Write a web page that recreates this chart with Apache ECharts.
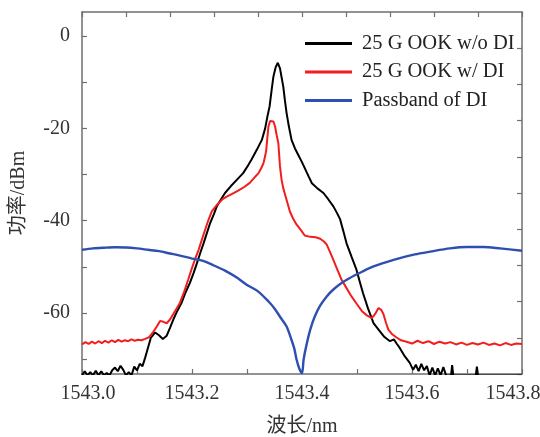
<!DOCTYPE html>
<html>
<head>
<meta charset="utf-8">
<script src="https://cdn.jsdelivr.net/npm/echarts@6/dist/echarts.min.js"></script>
<style>
  html, body { margin: 0; padding: 0; background: #fff; }
  #chart { width: 540px; height: 437px; }
</style>
</head>
<body>
<div id="chart"></div>
<script>
// Optical spectra around 1543.4 nm (wavelength in nm, power in dBm)
const xTickLabels = [1543.0, 1543.2, 1543.4, 1543.6, 1543.8];
const yTickLabels = [0, -20, -40, -60];

// 25 G OOK without delay interferometer
const ookNoDiWl = [
  1543.000, 1543.005, 1543.010, 1543.015, 1543.020, 1543.025, 1543.030, 1543.035, 1543.040, 1543.045,
  1543.050, 1543.055, 1543.060, 1543.065, 1543.070, 1543.075, 1543.080, 1543.085, 1543.090, 1543.095,
  1543.100, 1543.105, 1543.110, 1543.115, 1543.120, 1543.125, 1543.133, 1543.140, 1543.147, 1543.154,
  1543.160, 1543.166, 1543.173, 1543.181, 1543.188, 1543.196, 1543.203, 1543.209, 1543.215, 1543.221,
  1543.227, 1543.233, 1543.240, 1543.245, 1543.252, 1543.260, 1543.270, 1543.281, 1543.293, 1543.300,
  1543.308, 1543.318, 1543.327, 1543.333, 1543.337, 1543.341, 1543.345, 1543.348, 1543.352, 1543.356,
  1543.360, 1543.363, 1543.366, 1543.369, 1543.372, 1543.376, 1543.381, 1543.387, 1543.393, 1543.399,
  1543.405, 1543.412, 1543.418, 1543.428, 1543.439, 1543.448, 1543.457, 1543.463, 1543.469, 1543.475,
  1543.481, 1543.490, 1543.499, 1543.505, 1543.511, 1543.520, 1543.530, 1543.542, 1543.550, 1543.560,
  1543.567, 1543.572, 1543.578, 1543.587, 1543.596, 1543.602, 1543.607, 1543.612, 1543.617, 1543.622,
  1543.627, 1543.632, 1543.637, 1543.642, 1543.647, 1543.652, 1543.657, 1543.662, 1543.671, 1543.673,
  1543.675, 1543.700, 1543.716, 1543.718, 1543.720, 1543.800
];
const ookNoDiDbm = [
  -73.5, -72.6, -73.5, -72.8, -73.5, -72.5, -73.5, -72.6, -73.5, -73.0,
  -73.5, -72.4, -71.8, -72.6, -71.4, -72.3, -73.5, -72.8, -73.5, -71.6,
  -72.4, -71.0, -71.5, -69.6, -67.5, -65.4, -64.2, -64.8, -65.6, -64.9,
  -63.2, -61.4, -59.6, -57.8, -55.6, -53.5, -51.3, -49.2, -47.0, -44.9,
  -42.7, -40.5, -38.5, -36.9, -35.5, -34.0, -32.6, -31.2, -29.7, -28.4,
  -26.8, -24.6, -22.5, -20.0, -17.5, -15.3, -11.5, -8.8, -6.8, -5.8,
  -7.0, -9.0, -11.0, -14.0, -16.7, -19.5, -22.5, -24.3, -25.7, -27.1,
  -28.6, -30.4, -31.9, -33.0, -34.0, -35.4, -36.9, -38.2, -39.6, -42.2,
  -44.9, -47.8, -50.6, -53.2, -55.7, -59.0, -62.2, -64.0, -65.2, -66.1,
  -65.7, -66.6, -67.6, -69.4, -70.8, -72.3, -71.2, -72.6, -71.0, -72.4,
  -71.5, -73.5, -71.8, -73.5, -72.0, -73.5, -71.7, -73.5, -73.5, -71.3,
  -73.5, -73.5, -73.5, -71.6, -73.5, -73.5
];

// 25 G OOK after the delay interferometer
const ookDiWl = [
  1543.000, 1543.006, 1543.012, 1543.018, 1543.024, 1543.030, 1543.036, 1543.042, 1543.048, 1543.054,
  1543.060, 1543.066, 1543.072, 1543.078, 1543.084, 1543.090, 1543.096, 1543.102, 1543.108, 1543.115,
  1543.122, 1543.130, 1543.136, 1543.142, 1543.148, 1543.154, 1543.160, 1543.166, 1543.172, 1543.178,
  1543.186, 1543.193, 1543.199, 1543.205, 1543.212, 1543.218, 1543.224, 1543.230, 1543.236, 1543.245,
  1543.255, 1543.263, 1543.273, 1543.284, 1543.295, 1543.305, 1543.314, 1543.321, 1543.326, 1543.330,
  1543.333, 1543.335, 1543.337, 1543.339, 1543.342, 1543.345, 1543.348, 1543.351, 1543.354, 1543.357,
  1543.360, 1543.363, 1543.366, 1543.372, 1543.378, 1543.384, 1543.390, 1543.399, 1543.405, 1543.415,
  1543.425, 1543.433, 1543.440, 1543.445, 1543.451, 1543.457, 1543.465, 1543.472, 1543.481, 1543.490,
  1543.500, 1543.509, 1543.518, 1543.527, 1543.533, 1543.539, 1543.544, 1543.548, 1543.553, 1543.557,
  1543.564, 1543.572, 1543.580, 1543.590, 1543.600, 1543.610, 1543.620, 1543.630, 1543.640, 1543.650,
  1543.660, 1543.670, 1543.680, 1543.690, 1543.700, 1543.710, 1543.720, 1543.730, 1543.740, 1543.750,
  1543.760, 1543.770, 1543.780, 1543.790, 1543.800
];
const ookDiDbm = [
  -66.8, -66.3, -66.7, -66.2, -66.6, -66.1, -66.5, -66.0, -66.4, -65.9,
  -66.3, -65.8, -66.2, -65.9, -66.1, -65.7, -66.0, -65.8, -65.9, -65.6,
  -65.2, -64.0, -62.9, -61.7, -61.9, -62.2, -61.4, -60.2, -59.0, -57.8,
  -55.3, -52.8, -50.6, -48.5, -46.3, -44.1, -41.9, -39.8, -38.0, -36.6,
  -35.4, -34.8, -34.2, -33.5, -32.7, -31.8, -30.6, -29.7, -28.6, -27.5,
  -26.0, -24.7, -22.0, -19.6, -18.4, -18.0, -18.5, -19.6, -21.5, -23.2,
  -28.3, -31.2, -33.0, -35.5, -38.0, -39.6, -40.8, -42.2, -43.2, -43.5,
  -43.6, -43.9, -44.5, -45.2, -46.8, -48.5, -50.8, -52.8, -54.6, -56.4,
  -58.1, -59.6, -60.5, -61.1, -60.2, -58.9, -59.3, -60.2, -62.2, -63.6,
  -64.6, -65.3, -65.9, -66.2, -66.6, -66.0, -66.5, -66.1, -66.7, -66.2,
  -66.6, -66.3, -66.8, -66.4, -66.9, -66.5, -66.8, -66.4, -66.9, -66.6,
  -67.0, -66.5, -66.9, -66.6, -66.7
];

// Passband of the delay interferometer
const passbandWl = [
  1543.000, 1543.020, 1543.040, 1543.060, 1543.080, 1543.100, 1543.120, 1543.140, 1543.160, 1543.180,
  1543.200, 1543.220, 1543.240, 1543.260, 1543.280, 1543.300, 1543.320, 1543.340, 1543.350, 1543.360,
  1543.372, 1543.380, 1543.386, 1543.390, 1543.395, 1543.400, 1543.403, 1543.408, 1543.415, 1543.423,
  1543.433, 1543.445, 1543.457, 1543.472, 1543.487, 1543.510, 1543.530, 1543.555, 1543.578, 1543.605,
  1543.633, 1543.669, 1543.700, 1543.730, 1543.760, 1543.800
];
const passbandDbm = [
  -46.3, -46.0, -45.85, -45.75, -45.8, -46.0, -46.3, -46.6, -47.1, -47.6,
  -48.2, -48.7, -49.7, -50.8, -52.2, -53.9, -55.3, -57.6, -59.0, -60.8,
  -62.9, -65.5, -67.7, -70.0, -72.0, -73.0, -70.0, -67.0, -63.6, -60.8,
  -58.4, -56.4, -54.9, -53.5, -52.4, -51.0, -49.9, -48.9, -48.1, -47.3,
  -46.7, -46.0, -45.7, -45.7, -46.0, -46.5
];

const seriesNames = ['25 G OOK w/o DI', '25 G OOK w/ DI', 'Passband of DI'];

const X_MIN = 1543.0, X_MAX = 1543.8;
const Y_MIN = -73.2, Y_MAX = 5.2;

const pairs = (xs, ys) => xs.map((x, i) => [x, ys[i]]);

// evenly spaced ticks for the top and right frame edges (ten divisions each)
const evenTicks = (a, b, n) => Array.from({ length: n + 1 }, (_, k) => a + (b - a) * k / n);
// minor ticks on the left axis every 10 dB
const leftTicks = [];
for (let v = -70; v <= 0; v += 10) leftTicks.push(v);

const FONT = '"Liberation Serif", "Times New Roman", serif';
const AXIS_COLOR = '#6f6f6f';
const axisLine = { show: true, onZero: false, lineStyle: { color: AXIS_COLOR, width: 1.5 } };
const tickStyle = { color: AXIS_COLOR, width: 1.2 };

// first and last wavelength labels are nudged inward / outward a little
const xLabelFormatter = v => {
  const s = v.toFixed(1);
  if (Math.abs(v - X_MIN) < 1e-6) return '{first|' + s + '}';
  if (Math.abs(v - X_MAX) < 1e-6) return '{last|' + s + '}';
  return s;
};

const chart = echarts.init(document.getElementById('chart'), null, { renderer: 'canvas' });
chart.setOption({
  animation: false,
  backgroundColor: '#fff',
  grid: { left: 82, right: 18, top: 12, bottom: 63, containLabel: false, outerBoundsMode: 'none' },
  legend: {
    orient: 'vertical',
    left: 305,
    top: 33,
    padding: 0,
    itemWidth: 47,
    itemHeight: 3,
    itemGap: 7.5,
    icon: 'rect',
    data: seriesNames,
    textStyle: { fontFamily: FONT, fontSize: 20.5, color: '#222', lineHeight: 20, padding: [0, 0, 0, 5] }
  },
  xAxis: [
    {
      type: 'value', position: 'bottom', min: X_MIN, max: X_MAX, interval: 0.2,
      axisLine: axisLine,
      axisTick: { show: true, inside: true, length: 5, lineStyle: tickStyle },
      minorTick: { show: true, splitNumber: 2, length: 5, lineStyle: tickStyle },
      splitLine: { show: false },
      axisLabel: {
        customValues: xTickLabels,
        formatter: xLabelFormatter,
        fontFamily: FONT, fontSize: 20, color: '#333', margin: 10,
        rich: {
          first: { fontFamily: FONT, fontSize: 20, color: '#333', padding: [0, 0, 0, 12] },
          last: { fontFamily: FONT, fontSize: 20, color: '#333', padding: [0, 18, 0, 0] }
        }
      },
      name: '波长/nm', nameLocation: 'middle', nameGap: 43,
      nameTextStyle: { fontFamily: FONT + ', "Noto Sans CJK SC"', fontSize: 20, color: '#333' }
    },
    {
      type: 'value', position: 'top', min: X_MIN, max: X_MAX,
      axisLine: axisLine,
      axisTick: { show: true, inside: true, length: 5, lineStyle: tickStyle,
                  customValues: evenTicks(X_MIN, X_MAX, 10) },
      axisLabel: { show: false },
      splitLine: { show: false }
    }
  ],
  yAxis: [
    {
      type: 'value', position: 'left', min: Y_MIN, max: Y_MAX,
      axisLine: axisLine,
      axisTick: { show: true, inside: true, length: 5, lineStyle: tickStyle, customValues: leftTicks },
      splitLine: { show: false },
      axisLabel: {
        customValues: yTickLabels,
        fontFamily: FONT, fontSize: 20, color: '#333', margin: 12
      },
      name: '功率/dBm', nameLocation: 'middle', nameGap: 53, nameRotate: 90,
      nameTextStyle: { fontFamily: FONT + ', "Noto Sans CJK SC"', fontSize: 20, color: '#333' }
    },
    {
      type: 'value', position: 'right', min: Y_MIN, max: Y_MAX,
      axisLine: axisLine,
      axisTick: { show: true, inside: true, length: 5, lineStyle: tickStyle,
                  customValues: evenTicks(Y_MIN, Y_MAX, 10) },
      axisLabel: { show: false },
      splitLine: { show: false }
    }
  ],
  series: [
    {
      name: seriesNames[0], type: 'line', data: pairs(ookNoDiWl, ookNoDiDbm),
      showSymbol: false, symbol: 'none', clip: true,
      lineStyle: { color: '#000000', width: 2 }, itemStyle: { color: '#000000' }
    },
    {
      name: seriesNames[1], type: 'line', data: pairs(ookDiWl, ookDiDbm),
      showSymbol: false, symbol: 'none', clip: true,
      lineStyle: { color: '#f21d1d', width: 2 }, itemStyle: { color: '#f21d1d' }
    },
    {
      name: seriesNames[2], type: 'line', data: pairs(passbandWl, passbandDbm),
      showSymbol: false, symbol: 'none', clip: true, smooth: 0.3,
      lineStyle: { color: '#2f4fb0', width: 2.4 }, itemStyle: { color: '#2f4fb0' }
    }
  ]
});
</script>
</body>
</html>
